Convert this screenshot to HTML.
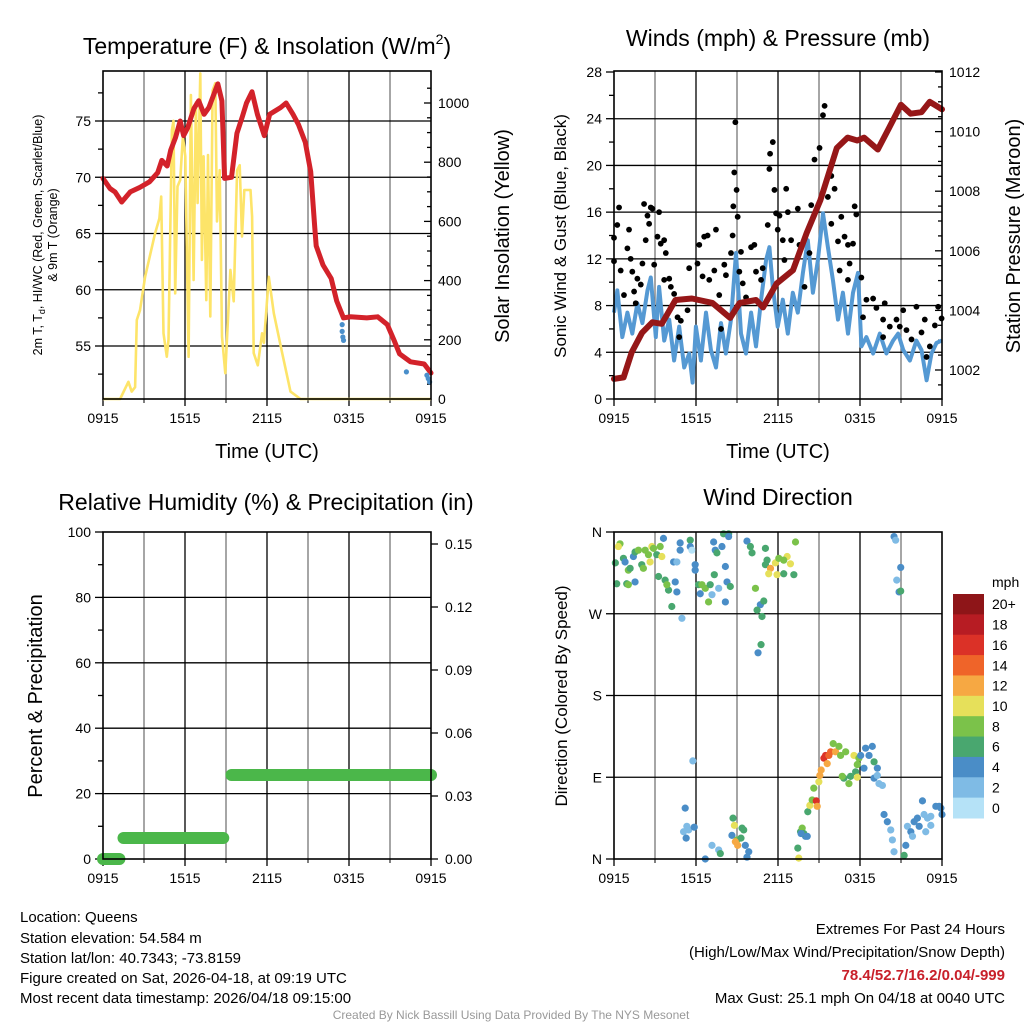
<!DOCTYPE html>
<html><head><meta charset="utf-8">
<style>
body{margin:0;background:#fff;}
svg{display:block;font-family:"Liberation Sans",Arial,sans-serif;}
</style></head>
<body>
<svg id="root" width="1024" height="1024" viewBox="0 0 1024 1024" xmlns="http://www.w3.org/2000/svg">
<rect x="0" y="0" width="1024" height="1024" fill="#fff"/>
<g id="p1"></g>
<g id="p2"></g>
<g id="p3"></g>
<g id="p4"></g>

<text x="267" y="54" font-size="23" text-anchor="middle">Temperature (F) &amp; Insolation (W/m<tspan font-size="14" dy="-10">2</tspan><tspan dy="10">)</tspan></text>
<text x="778" y="46" font-size="23" text-anchor="middle">Winds (mph) &amp; Pressure (mb)</text>
<text x="266" y="510" font-size="23" text-anchor="middle">Relative Humidity (%) &amp; Precipitation (in)</text>
<text x="778" y="505" font-size="23" text-anchor="middle">Wind Direction</text>

<text transform="translate(42,235) rotate(-90)" font-size="12.5" text-anchor="middle">2m T, T<tspan font-size="9" dy="3">d</tspan><tspan dy="-3">, HI/WC (Red, Green, Scarlet/Blue)</tspan></text>
<text transform="translate(57,235) rotate(-90)" font-size="12.5" text-anchor="middle">&amp; 9m T (Orange)</text>
<text transform="translate(509,236) rotate(-90)" font-size="20" text-anchor="middle">Solar Insolation (Yellow)</text>
<text x="267" y="458" font-size="20" text-anchor="middle">Time (UTC)</text>
<text x="778" y="458" font-size="20" text-anchor="middle">Time (UTC)</text>
<text transform="translate(566,236) rotate(-90)" font-size="17" text-anchor="middle">Sonic Wind &amp; Gust (Blue, Black)</text>
<text transform="translate(1020,236) rotate(-90)" font-size="20" text-anchor="middle">Station Pressure (Maroon)</text>
<text transform="translate(42,696) rotate(-90)" font-size="20" text-anchor="middle">Percent &amp; Precipitation</text>
<text transform="translate(567,696) rotate(-90)" font-size="17" text-anchor="middle">Direction (Colored By Speed)</text>

<g font-size="15">
<text x="20" y="922">Location: Queens</text>
<text x="20" y="943">Station elevation: 54.584 m</text>
<text x="20" y="963">Station lat/lon: 40.7343; -73.8159</text>
<text x="20" y="983">Figure created on Sat, 2026-04-18, at 09:19 UTC</text>
<text x="20" y="1003">Most recent data timestamp: 2026/04/18 09:15:00</text>
</g>
<g font-size="15" text-anchor="end">
<text x="1005" y="934">Extremes For Past 24 Hours</text>
<text x="1005" y="957">(High/Low/Max Wind/Precipitation/Snow Depth)</text>
<text x="1005" y="980" fill="#c8202a" font-weight="bold">78.4/52.7/16.2/0.04/-999</text>
<text x="1005" y="1003">Max Gust: 25.1 mph On 04/18 at 0040 UTC</text>
</g>
<text x="511" y="1019" font-size="12" fill="#999" text-anchor="middle">Created By Nick Bassill Using Data Provided By The NYS Mesonet</text>
</svg>

<script>
// ---------- DATA ----------
const timeTickLabels = ["0915","1515","2115","0315","0915"];
const tempTicks = [55,60,65,70,75];
const solarTicks = [0,200,400,600,800,1000];
const windTicks = [0,4,8,12,16,20,24,28];
const presTicks = [1002,1004,1006,1008,1010,1012];
const rhTicks = [0,20,40,60,80,100];
const precipTicks = ["0.00","0.03","0.06","0.09","0.12","0.15"];
const dirTickLabels = ["N","E","S","W","N"];
const speedBinLabels = ["0","2","4","6","8","10","12","14","16","18","20+"];
const speedBinColors = ["#b5e2f7","#7fbbe5","#4a8dc7","#49a76f","#7bc24a","#e6e05a","#f6a843","#ef6429","#db3127","#b71c23","#8e1518"];

const tempHours = [0,0.51,0.88,1.37,2.0,2.7,3.4,4.0,4.3,4.7,4.95,5.3,5.65,5.9,6.2,6.65,7.0,7.4,7.75,8.4,8.7,8.9,9.4,9.8,10.2,10.5,10.9,11.3,11.8,12.2,13.0,13.4,13.9,14.3,14.8,15.2,15.5,15.6,16.1,16.7,17.1,17.6,18.1,19.3,20.1,20.8,21.3,21.7,22.5,23.5,24];
const tempVals = [69.9,69.0,68.7,67.8,68.7,69.1,69.6,70.4,71.5,71.0,72.4,73.5,75.0,73.7,74.4,76.1,76.8,75.6,76.2,78.3,76.8,69.9,70.0,73.9,75.4,76.6,77.6,75.6,73.7,75.6,76.2,76.6,75.6,74.7,73.1,70.5,65.5,63.9,62.2,61.0,59.0,57.5,57.6,57.5,57.6,56.9,55.5,54.3,53.6,53.4,52.6];
const wcHours = [17.5,17.5,17.55,17.6,22.2,23.7,23.8,23.9];
const wcVals = [56.9,56.3,55.8,55.5,52.7,52.4,52.1,51.8];

const solarHours = [0,1.25,1.86,2.10,2.35,2.47,2.71,2.84,3.08,3.81,4.13,4.26,4.43,4.67,4.79,5.04,5.16,5.28,5.45,5.65,5.85,6.02,6.26,6.43,6.63,6.80,6.92,7.12,7.24,7.36,7.56,7.68,7.85,8.02,8.22,8.34,8.54,8.71,8.95,9.32,9.56,9.81,10.00,10.17,10.34,10.79,10.91,11.03,11.33,11.64,11.77,12.13,12.50,13.11,13.72,14.45,24];
const solarVals = [0,0,58,25,40,267,300,340,413,560,610,684,222,143,200,908,940,357,718,740,887,820,143,1027,402,1002,662,1100,470,820,334,824,279,1043,1067,600,773,211,87,436,330,773,790,549,706,706,616,155,114,222,190,413,290,155,25,0,0];

const windHours = [0,0.24,0.61,0.98,1.34,1.71,2.08,2.45,2.69,3.06,3.30,3.67,4.04,4.40,4.77,5.14,5.50,5.75,5.99,6.36,6.73,7.09,7.46,7.83,8.19,8.56,8.93,9.29,9.66,10.03,10.39,10.76,11.13,11.37,11.62,11.98,12.35,12.72,13.08,13.45,13.82,14.18,14.55,14.92,15.29,15.65,16.02,16.39,16.75,17.12,17.49,17.85,18.10,18.47,18.96,19.45,19.93,20.42,20.79,21.16,21.65,22.13,22.50,22.87,23.23,23.60,23.97];
const windVals = [7.4,9.3,5.3,7.4,5.6,8.2,6.5,9.3,10.4,5.3,9.6,5.0,6.8,3.3,6.2,2.7,3.9,1.4,6.2,3.3,7.4,4.2,2.7,6.5,3.9,6.8,12.5,5.6,3.9,7.4,4.5,8.5,11.9,13.0,9.6,6.2,8.5,5.6,9.1,7.4,10.8,13.6,9.1,11.9,15.9,13.0,10.2,6.8,9.1,5.6,9.1,10.8,4.5,5.3,3.9,5.6,3.9,5.0,5.6,4.2,3.3,5.0,4.2,1.6,3.9,4.8,5.0];

const gustHours = [0,0.24,0.37,0,0.49,0.73,0.98,1.1,1.22,1.34,1.47,1.59,1.71,1.96,2.08,2.2,2.32,2.45,2.57,2.69,2.81,2.94,3.18,3.30,3.42,3.67,3.79,3.67,4.04,4.16,4.40,4.65,4.77,4.89,5.50,5.38,6.11,6.24,6.60,6.85,6.48,6.97,7.46,7.34,8.07,8.19,7.7,7.83,8.68,8.73,8.8,8.88,8.97,9.05,8.56,9.29,9.17,9.42,9.66,10.03,10.27,10.39,10.76,10.88,11.25,11.37,11.42,11.62,11.74,11.86,12.11,11.98,12.6,12.72,12.35,12.96,12.47,13.45,13.57,13.94,14.3,14.43,14.67,15.04,15.29,15.41,15.65,15.9,16.14,15.9,16.39,16.63,16.87,17.12,17.24,17.61,17.73,17.49,16.51,17.12,18.1,18.47,18.96,19.2,19.81,18.22,19.69,20.18,20.67,21.16,21.4,21.77,22.13,22.50,22.74,23.11,23.48,23.72,23.97,22.87,19.69,20.91];
const gustVals = [13.8,14.9,16.4,11.8,11.0,8.9,12.9,14.5,12.0,10.9,9.2,8.2,10.3,9.8,11.6,16.7,13.6,15.7,15.0,16.4,16.3,11.5,13.9,16.0,13.3,13.6,12.5,10.2,10.3,9.6,9.0,7.0,5.3,6.7,11.2,7.6,11.6,13.2,13.9,14.0,10.5,10.2,14.5,11.0,11.5,10.6,8.9,6.0,14.0,16.5,19.4,23.7,17.9,15.6,12.5,12.6,10.9,9.9,8.7,13.0,13.2,10.9,10.2,11.2,14.9,19.7,21.0,22.0,17.9,15.9,15.7,14.5,18.0,16.0,13.6,13.6,11.9,16.3,13.2,9.6,12.5,16.6,20.5,21.5,24.3,25.1,17.3,19.1,18.0,15.0,13.5,15.6,13.9,13.2,11.6,16.5,15.8,13.3,11.0,10.2,10.4,8.5,8.6,7.8,8.2,7.0,6.8,6.2,6.8,7.6,5.9,5.1,7.9,5.7,6.8,4.5,6.3,7.9,6.9,3.6,5.3,6.2];

const presHours = [0,0.7,1.3,2.05,2.8,3.5,4.5,5.7,7.2,8.5,9.2,10.4,10.9,11.9,13.1,14.1,15.1,16.3,17.1,17.8,18.3,19.3,20.1,21.0,21.7,22.5,23.1,24];
const presVals = [1001.7,1001.75,1002.6,1003.25,1003.6,1003.55,1004.35,1004.4,1004.25,1003.75,1004.25,1004.35,1004.1,1004.9,1005.35,1006.6,1007.7,1009.45,1009.8,1009.7,1009.8,1009.4,1010.1,1010.9,1010.6,1010.65,1011.0,1010.75];

const precipHours = [0,1.2,1.5,8.8,9.4,24];
const precipVals = [0,0,0.01,0.01,0.04,0.04];

const dirHours = [0.1,0.44,0.32,0.69,0.81,1.05,1.18,1.42,1.54,1.79,2.03,2.15,2.28,2.52,2.64,2.77,2.89,3.13,3.38,3.5,3.62,0.2,0.93,1.05,1.54,3.26,3.74,3.99,3.87,4.36,4.6,4.48,4.6,4.23,4.84,4.84,4.97,5.58,5.58,5.7,5.94,5.94,6.19,6.43,6.31,6.68,6.92,7.04,7.17,7.29,7.41,7.53,7.34,7.66,7.9,8.15,8.15,8.27,8.51,8.02,8.39,8.39,9.73,9.98,10.1,11.08,11.2,11.08,11.45,11.32,11.81,11.93,12.06,12.42,12.67,12.91,13.16,13.28,12.42,10.35,10.71,10.96,10.47,10.83,10.76,10.54,
20.49,20.61,20.98,20.69,20.86,20.98,
13.52,13.45,13.65,13.77,14.01,13.89,14.18,14.33,14.5,14.62,14.8,14.87,14.99,15.06,15.16,15.36,15.48,15.6,15.72,15.85,16.04,16.21,16.46,16.58,16.82,16.7,16.95,17.31,17.19,17.56,17.68,17.8,17.92,17.8,18.05,18.29,18.41,18.66,18.9,19.03,19.27,19.03,19.39,19.64,19.27,
19.76,20.0,20.25,20.37,20.49,21.23,21.35,21.47,21.72,21.84,21.96,22.2,22.33,22.57,22.69,22.94,23.18,22.81,23.18,23.55,23.79,24,23.92,
5.77,5.21,5.33,5.09,5.46,5.28,5.87,6.68,7.17,7.66,7.78,8.71,8.81,9.37,9.49,8.63,9.0,9.29,8.88,9.05,9.61,9.86,9.73,13.69,14.14];
const dirVals = [326,347,344,331,327,318,320,333,338,340,324,320,340,335,327,344,342,335,344,333,353,303,303,302,305,311,307,296,302,327,327,305,294,278,348,340,265,351,344,340,324,318,302,302,292,298,283,302,291,349,340,337,313,298,344,322,283,305,300,358,358,355,350,344,337,342,329,324,320,314,326,313,331,314,333,325,313,349,329,298,280,284,274,267,236,227,
355,351,321,307,294,295,
1,12,30,34,25,28,52,59,65,78,64,58,85,92,98,111,114,105,114,118,127,118,124,114,89,91,118,91,83,114,96,90,111,104,114,100,122,114,124,107,100,89,83,81,92,
49,41,32,21,8,4,15,36,30,25,41,45,36,64,49,45,47,30,37,58,58,49,56,
108,56,36,30,32,23,35,0,15,10,6,45,37,34,32,26,21,23,19,15,15,8,2,28,25];
const dirSpeeds = [6,8,10,6,5,8,6,5,6,8,6,8,8,8,10,10,8,6,8,10,5,6,6,8,5,6,6,6,8,5,3,5,5,6,5,5,3,6,5,1,5,5,6,8,5,8,8,6,3,5,5,6,6,3,5,5,5,5,6,6,6,5,5,6,6,6,6,6,12,10,10,10,8,6,10,10,6,8,8,8,5,6,6,6,6,5,
5,3,5,3,5,6,
10,6,6,8,5,6,6,10,8,8,16,12,10,12,12,16,16,12,14,14,8,12,8,8,6,8,8,6,8,10,6,10,8,8,5,5,5,5,5,6,5,5,3,3,3,
5,5,3,3,3,6,5,3,5,3,5,5,5,5,3,3,3,3,3,5,5,5,5,
3,5,3,3,3,5,5,5,3,3,6,6,10,6,6,5,8,6,12,12,5,5,5,5,5];

// ---------- HELPERS ----------
const NS="http://www.w3.org/2000/svg";
function mk(parent,tag,attrs){const e=document.createElementNS(NS,tag);for(const k in attrs)e.setAttribute(k,attrs[k]);parent.appendChild(e);return e;}
function lin(d0,d1,r0,r1){return v=>r0+(v-d0)*(r1-r0)/(d1-d0);}

// panel geometry
const L={x0:103,x1:431,y0:71,y1:399};
const R={x0:614,x1:942,y0:71,y1:399};
const L3={x0:103,x1:431,y0:532,y1:859};
const R4={x0:614,x1:942,y0:532,y1:859};

function frame(g,P,nameP){
  const xs=lin(0,24,P.x0,P.x1);
  for(let h=3;h<24;h+=3){
    const l=mk(g,'line',{x1:xs(h),x2:xs(h),y1:P.y0,y2:P.y1,stroke:(h%6===0)?'#000':'#777','stroke-width':1.3});
    
    
  }
  timeTickLabels.forEach((t,i)=>{
    const x=xs(i*6);
    const tk=mk(g,'line',{x1:x,x2:x,y1:P.y1,y2:P.y1+7,stroke:'#000','stroke-width':1.3});
    
    
    const tx=mk(g,'text',{x:x,y:P.y1+24,'font-size':14,'text-anchor':'middle'});
    tx.textContent=t;
    
    
  });
  for(let h=3;h<24;h+=6){
    const tk=mk(g,'line',{x1:xs(h),x2:xs(h),y1:P.y1,y2:P.y1+4,stroke:'#000','stroke-width':1});
    
    
  }
  return xs;
}
function box(g,P,nameP){
  const b=mk(g,'rect',{x:P.x0,y:P.y0,width:P.x1-P.x0,height:P.y1-P.y0,fill:'none',stroke:'#000','stroke-width':1.6});
  
  
}
function hgrid(g,P,y,nameP){
  const l=mk(g,'line',{x1:P.x0,x2:P.x1,y1:y,y2:y,stroke:'#000','stroke-width':1.3});
  
  
}
function ytick(g,x,y,len,label,anchor,nameP,fs){
  const tk=mk(g,'line',{x1:x,x2:x+len,y1:y,y2:y,stroke:'#000','stroke-width':1.3});
  
  
  if(label!==null){
    const tx=mk(g,'text',{x:x+len+(len<0?-4:4),y:y+5,'font-size':fs||14,'text-anchor':anchor});
    tx.textContent=label;
    
    
  }
}
function pathFrom(xsArr,ysArr,xs,ys){return xsArr.map((h,i)=>(i?'L':'M')+xs(h).toFixed(1)+','+ys(ysArr[i]).toFixed(1)).join('');}

// ---------- PANEL 1 ----------
(function(){
  const g=document.getElementById('p1');
  const xs=frame(g,L,'temp');
  const yT=lin(55,75,346,121);
  const yS=lin(0,1000,399,103);
  tempTicks.forEach(v=>{hgrid(g,L,yT(v),'temp');ytick(g,L.x0,yT(v),-8,String(v),'end','temp-y');});
  for(let v=52.5;v<80;v+=5){ytick(g,L.x0,yT(v),-5,null,'end','temp-y-minor');}
  solarTicks.forEach(v=>ytick(g,L.x1,yS(v),-7,null,'start','solar-y'));
  solarTicks.forEach(v=>{const t=mk(g,'text',{x:L.x1+7,y:yS(v)+5,'font-size':14});t.textContent=v;
    
    });
  for(let v=50;v<1100;v+=50){if(v%200)ytick(g,L.x1,yS(v),-4,null,'start','solar-y-minor');}
  const s=mk(g,'path',{d:pathFrom(solarHours,solarVals,xs,yS),fill:'none',stroke:'#fde469','stroke-width':2.6,'stroke-linejoin':'round'});
  
  
  const t=mk(g,'path',{d:pathFrom(tempHours,tempVals,xs,yT),fill:'none',stroke:'#d3222a','stroke-width':5,'stroke-linejoin':'round','stroke-linecap':'round'});
  
  
  wcHours.forEach((h,i)=>{const c=mk(g,'circle',{cx:xs(h),cy:yT(wcVals[i]),r:2.6,fill:'#4a8fcb'});
    
    });
  box(g,L,'temp');
})();

// ---------- PANEL 2 ----------
(function(){
  const g=document.getElementById('p2');
  const xs=frame(g,R,'wind');
  const yW=lin(0,28,399,72);
  const yP=lin(1002,1012,370,72);
  windTicks.forEach(v=>{if(v>0&&v<28)hgrid(g,R,yW(v),'wind');ytick(g,R.x0,yW(v),-8,String(v),'end','wind-y');});
  for(let v=2;v<28;v+=4)ytick(g,R.x0,yW(v),-5,null,'end','wind-y-minor');
  presTicks.forEach(v=>{ytick(g,R.x1,yP(v),-7,null,'start','pressure-y');
    const t=mk(g,'text',{x:R.x1+7,y:yP(v)+5,'font-size':14});t.textContent=v;
    
    });
  for(let v=1001.5;v<1012;v+=0.5){if((v*2)%4)ytick(g,R.x1,yP(v),-4,null,'start','pressure-y-minor');}
  const w=mk(g,'path',{d:pathFrom(windHours,windVals,xs,yW),fill:'none',stroke:'#5599d3','stroke-width':4,'stroke-linejoin':'round'});
  
  
  gustHours.forEach((h,i)=>{const c=mk(g,'circle',{cx:xs(h),cy:yW(gustVals[i]),r:2.9,fill:'#000'});
    
    });
  const p=mk(g,'path',{d:pathFrom(presHours,presVals,xs,yP),fill:'none',stroke:'#961718','stroke-width':6,'stroke-linejoin':'round','stroke-linecap':'round'});
  
  
  box(g,R,'wind');
})();

// ---------- PANEL 3 ----------
(function(){
  const g=document.getElementById('p3');
  const xs=frame(g,L3,'rh');
  const yR=lin(0,100,859,532);
  const yPr=lin(0,0.15,859,544);
  rhTicks.forEach(v=>{if(v>0&&v<100)hgrid(g,L3,yR(v),'rh');ytick(g,L3.x0,yR(v),-8,String(v),'end','rh-y');});
  for(let v=10;v<100;v+=20)ytick(g,L3.x0,yR(v),-5,null,'end','rh-y-minor');
  precipTicks.forEach(v=>{ytick(g,L3.x1,yPr(+v),7,null,'start','precip-y');
    const t=mk(g,'text',{x:L3.x1+14,y:yPr(+v)+5,'font-size':14});t.textContent=v;
    
    });
  for(let i=0;i+1<precipHours.length;i++){
    if(precipVals[i]!==precipVals[i+1])continue;
    const l=mk(g,'line',{x1:xs(precipHours[i]),x2:xs(precipHours[i+1]),y1:yPr(precipVals[i]),y2:yPr(precipVals[i]),stroke:'#4bb74a','stroke-width':12,'stroke-linecap':'round'});
    
    
  }
  box(g,L3,'rh');
})();

// ---------- PANEL 4 ----------
(function(){
  const g=document.getElementById('p4');
  const xs=frame(g,R4,'dir');
  const yD=lin(0,360,859,532);
  dirTickLabels.forEach((lab,i)=>{const v=i*90;if(v>0&&v<360)hgrid(g,R4,yD(v),'dir');ytick(g,R4.x0,yD(v),-8,lab,'end','dir-y');});
  dirHours.forEach((h,i)=>{
    const idx=Math.min(10,Math.floor(dirSpeeds[i]/2));
    const c=mk(g,'circle',{cx:xs(h),cy:yD(dirVals[i]),r:3.6,fill:speedBinColors[idx]});
    
    
  });
  box(g,R4,'dir');
  // colorbar
  const cbTop=594,cbH=224/11;
  const mt=mk(g,'text',{x:992,y:587,'font-size':14});mt.textContent='mph';
  
  
  for(let k=0;k<11;k++){
    const idx=10-k;
    const r=mk(g,'rect',{x:953,y:cbTop+k*cbH,width:31,height:cbH+0.5,fill:speedBinColors[idx]});
    
    
    const t=mk(g,'text',{x:992,y:cbTop+k*cbH+cbH/2+5,'font-size':14});t.textContent=speedBinLabels[idx];
    
    
  }
})();
</script>
</body></html>
